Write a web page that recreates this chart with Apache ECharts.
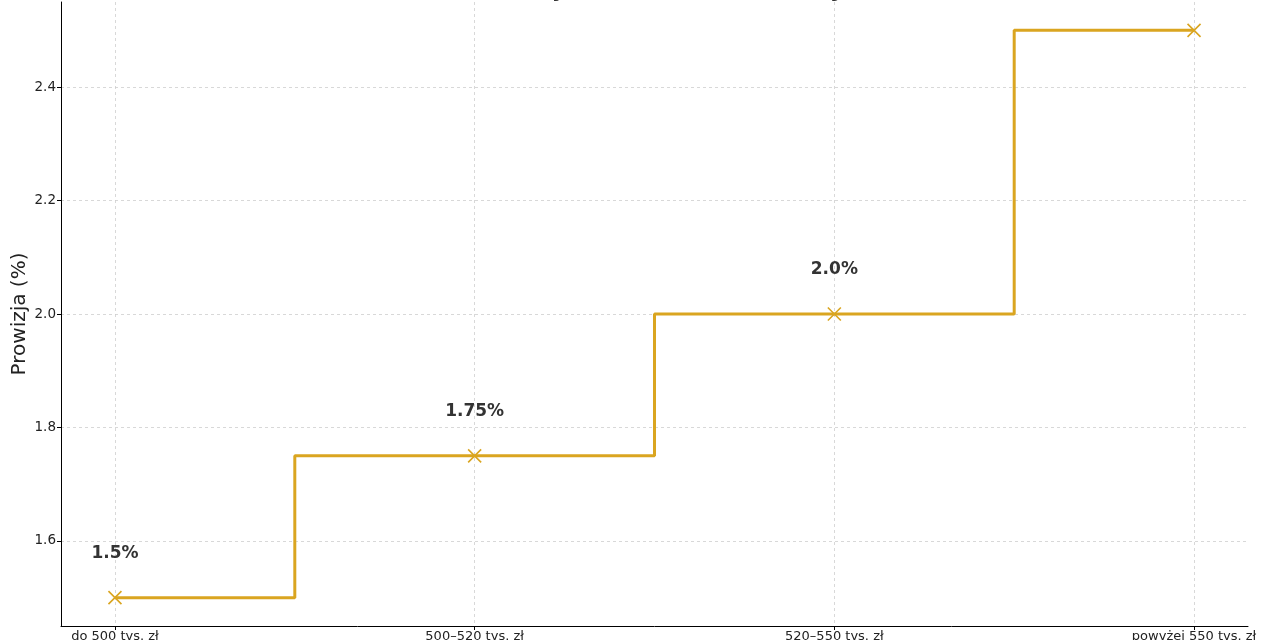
<!DOCTYPE html>
<html>
<head>
<meta charset="utf-8" />
<script src="https://cdn.jsdelivr.net/npm/echarts@6/dist/echarts.min.js"></script>
<style>
	html, body { margin: 0; padding: 0; background: #fff; }
	#main { width: 1280px; height: 640px; }
</style>
</head>
<body>
<div id="main"></div>
<script type="text/javascript">
	// dane
	var categories = ['do 500 tys. zł', '500–520 tys. zł', '520–550 tys. zł', 'powyżej 550 tys. zł'];
	var commission = [1.5, 1.75, 2.0, 2.5];
	var pointLabels = ['1.5%', '1.75%', '2.0%', '2.5%'];
	var yTicks = [1.6, 1.8, 2.0, 2.2, 2.4];
	var xTicks = [0, 1, 2, 3];

	var gold = '#DAA520';
	var myChart = echarts.init(document.getElementById('main'));

	var seriesData = [];
	for (var i = 0; i < commission.length; i++) {
		seriesData.push({ value: [i, commission[i]], label: { formatter: pointLabels[i] } });
	}

	var option = {
		animation: false,
		textStyle: { fontFamily: 'DejaVu Sans' },
		title: {
			text: 'Prowizja w zależności od ceny nieruchomości',
			left: 747,
			textAlign: 'center',
			top: -25,
			textStyle: { fontSize: 22, fontWeight: 'bold', color: '#333', fontFamily: 'DejaVu Sans' }
		},
		grid: { left: 61, right: 32, top: 2, bottom: 14, outerBoundsMode: 'none', containLabel: false },
		xAxis: {
			type: 'value',
			min: -0.15,
			max: 3.15,
			axisLine: { show: true, onZero: false, lineStyle: { color: '#000', width: 1 } },
			axisTick: { show: true, length: 4, customValues: xTicks, lineStyle: { color: '#000' } },
			axisLabel: {
				customValues: xTicks,
				margin: 4,
				fontSize: 13,
				color: '#222',
				formatter: function (v) { return categories[Math.round(v)]; }
			},
			splitLine: { show: true, lineStyle: { color: '#cfcfcf', type: [3, 3], width: 0.8 } }
		},
		yAxis: {
			type: 'value',
			min: 1.45,
			max: 2.55,
			name: 'Prowizja (%)',
			nameLocation: 'middle',
			nameGap: 31,
			nameMoveOverlap: false,
			nameTextStyle: { fontSize: 20, color: '#222' },
			axisLine: { show: true, onZero: false, lineStyle: { color: '#000', width: 1 } },
			axisTick: { show: true, length: 4, customValues: yTicks, lineStyle: { color: '#000' } },
			axisLabel: {
				customValues: yTicks,
				margin: 5,
				fontSize: 13.5,
				color: '#222',
				formatter: function (v) { return v.toFixed(1); }
			},
			splitLine: { show: true, lineStyle: { color: '#cfcfcf', type: [3, 3], width: 0.8 } }
		},
		series: [{
			type: 'line',
			step: 'middle',
			data: seriesData,
			lineStyle: { color: gold, width: 3 },
			symbol: 'path://M0,0L10,10M10,0L0,10',
			symbolSize: 13,
			itemStyle: { color: 'none', borderColor: gold, borderWidth: 1.6 },
			label: {
				show: true,
				position: 'top',
				distance: 27,
				fontSize: 17,
				fontWeight: 'bold',
				color: '#333'
			},
			z: 3
		}]
	};

	myChart.setOption(option);
</script>
</body>
</html>
